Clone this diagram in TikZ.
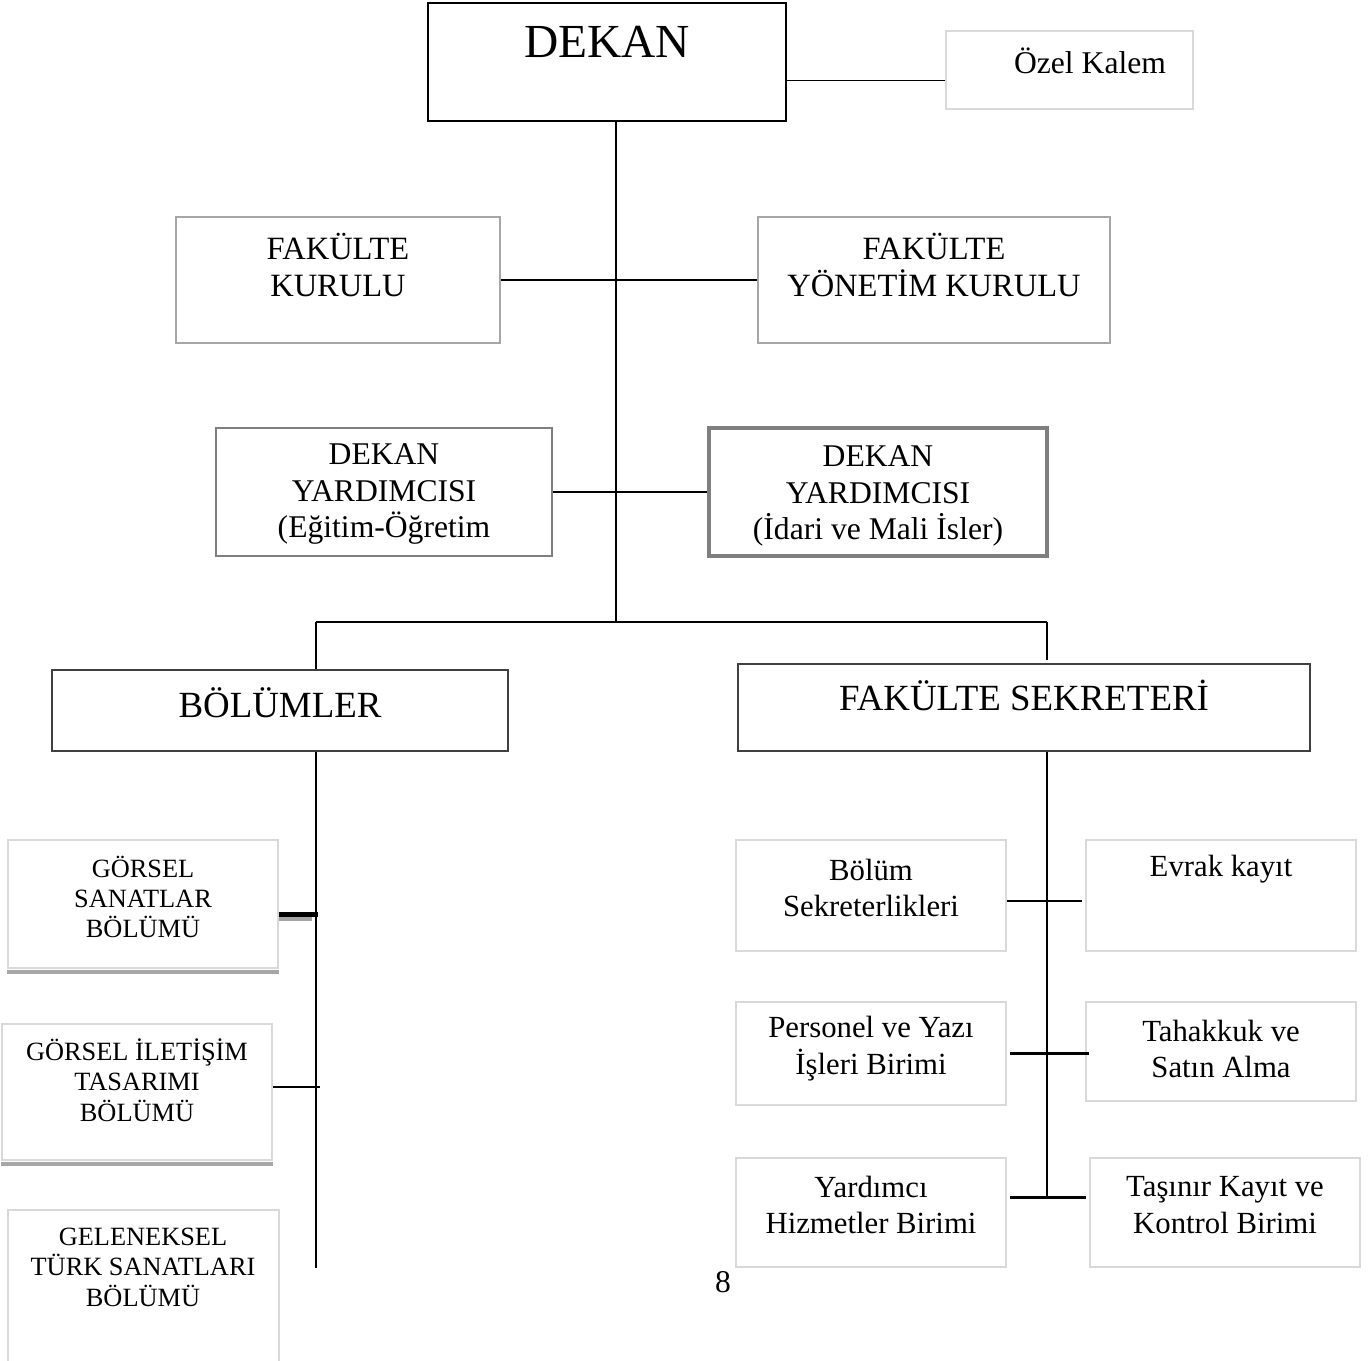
\documentclass[tikz,border=0pt]{standalone}
\usepackage{fontspec}
\setmainfont{Liberation Serif}
\usetikzlibrary{fit}
\definecolor{boxlight}{HTML}{D9D9D9}
\definecolor{boxmid}{HTML}{A6A6A6}
\definecolor{boxgrey}{HTML}{7F7F7F}
\definecolor{boxdark}{HTML}{404040}
% #1 name, #2 box style, #3 corners, #4 text position, #5 font, #6 text
\newcommand{\orgbox}[6]{
  \node(#1)[#2,fit={#3}]{};
  \node(#1-t)[boxtext,font=#5] at (#4){#6};
}

\begin{document}
\begin{tikzpicture}[
  x=0.02cm,y=-0.02cm,
  boxtext/.style={align=center,inner sep=0pt},
  unit/.style={draw,inner sep=0pt,line width=1.1pt},
  headbox/.style={unit,draw=black,line width=1.5pt},
  lightbox/.style={unit,draw=boxlight},
  midbox/.style={unit,draw=boxmid},
  greybox/.style={unit,draw=boxgrey},
  thickbox/.style={unit,draw=boxgrey,line width=2.2pt},
  darkbox/.style={unit,draw=boxdark},
  link/.style={draw,line width=1.4pt},
  thinlink/.style={draw,line width=0.7pt},
  shadowline/.style={draw=gray!70,line width=2.2pt},
  ]
  \useasboundingbox (0,0) rectangle (1368,1361);
  % top level
  \orgbox{dekan}{headbox}{(428,3)(786,121)}{607,42}{\fontsize{27}{30}\selectfont}{DEKAN}
  \orgbox{ozel}{lightbox}{(946,31)(1193,109)}{1090,61}{\fontsize{18}{21}\selectfont}{Özel Kalem}
  \orgbox{fk}{midbox}{(176,217)(500,343)}{338,265}{\fontsize{18.5}{21}\selectfont}{FAKÜLTE\\KURULU}
  \orgbox{fyk}{midbox}{(758,217)(1110,343)}{934,265}{\fontsize{18.5}{21}\selectfont}{FAKÜLTE\\YÖNETİM KURULU}
  \orgbox{dy-eo}{greybox}{(216,428)(552,556)}{384,494}{\fontsize{18}{20.7}\selectfont}{DEKAN\\YARDIMCISI\\(Eğitim-Öğretim}
  \orgbox{dy-im}{thickbox}{(709,428)(1047,556)}{878,496}{\fontsize{18}{20.7}\selectfont}{DEKAN\\YARDIMCISI\\(İdari ve Mali İsler)}
  \orgbox{bolum}{darkbox}{(52,670)(508,751)}{280,703}{\fontsize{21}{24}\selectfont}{BÖLÜMLER}
  \orgbox{sekr}{darkbox}{(738,664)(1310,751)}{1024,695}{\fontsize{21}{24}\selectfont}{FAKÜLTE SEKRETERİ}
  % departments
  \orgbox{gsb}{lightbox}{(8,840)(278,968)}{143,897}{\fontsize{15}{17.3}\selectfont}{GÖRSEL\\SANATLAR\\BÖLÜMÜ}
  \orgbox{gitb}{lightbox}{(2,1024)(272,1160)}{137,1080}{\fontsize{15}{17.3}\selectfont}{GÖRSEL İLETİŞİM\\TASARIMI\\BÖLÜMÜ}
  \orgbox{gtsb}{lightbox}{(8,1210)(279,1372)}{143,1267}{\fontsize{15}{17.3}\selectfont}{GELENEKSEL\\TÜRK SANATLARI\\BÖLÜMÜ}
  % secretary units
  \orgbox{bsek}{lightbox}{(736,840)(1006,951)}{871,888}{\fontsize{17.5}{21}\selectfont}{Bölüm\\Sekreterlikleri}
  \orgbox{evrak}{lightbox}{(1086,840)(1356,951)}{1221,869}{\fontsize{17.5}{21}\selectfont}{Evrak kayıt}
  \orgbox{pers}{lightbox}{(736,1002)(1006,1105)}{871,1049}{\fontsize{17.5}{21}\selectfont}{Personel ve Yazı\\İşleri Birimi}
  \orgbox{tah}{lightbox}{(1086,1002)(1356,1101)}{1221,1049}{\fontsize{17.5}{21}\selectfont}{Tahakkuk ve\\Satın Alma}
  \orgbox{yard}{lightbox}{(736,1158)(1006,1267)}{871,1205}{\fontsize{17.5}{21}\selectfont}{Yardımcı\\Hizmetler Birimi}
  \orgbox{tas}{lightbox}{(1090,1158)(1360,1267)}{1225,1205}{\fontsize{17.5}{21}\selectfont}{Taşınır Kayıt ve\\Kontrol Birimi}
  \node(page)[font=\fontsize{18}{21}\selectfont,inner sep=0pt] at (723,1282){8};
  % shadows under the first two departments
  \draw[shadowline] ([yshift=-1.5pt]gsb.south west) -- ([yshift=-1.5pt]gsb.south east);
  \draw[shadowline] ([yshift=-1.5pt]gitb.south west) -- ([yshift=-1.5pt]gitb.south east);
  % connectors
  \coordinate(split) at (616,622);
  \coordinate(left-drop) at (316,622);
  \coordinate(right-drop) at (1047,622);
  \coordinate(left-end) at (316,1268);
  \coordinate(right-end) at (1047,1198);
  \draw[thinlink] ([yshift=-6pt]ozel.west) -- ([yshift=-6pt]ozel.west -| dekan.east);
  \draw[link] (split |- dekan.south) -- (split);
  \draw[link] (fk.east) -- (fyk.west);
  \draw[link] (dy-eo.east) -- (dy-im.west);
  \draw[link] (left-drop) -- (right-drop);
  \draw[link] (left-drop) -- (left-drop |- bolum.north);
  \draw[link] (right-drop) -- ([yshift=2pt]right-drop |- sekr.north);
  \draw[link] (left-drop |- bolum.south) -- (left-end);
  \draw[link] (right-drop |- sekr.south) -- (right-end);
  \draw[gray!70,line width=2.2pt] ([yshift=-8.5pt]gsb.east) -- ([xshift=-2pt,yshift=-8.5pt]gsb.east -| left-end);
  \draw[black,line width=2.8pt] ([yshift=-6pt]gsb.east) -- ([xshift=1pt,yshift=-6pt]gsb.east -| left-end);
  \draw[link] ([yshift=3pt]gitb.east) -- ([xshift=2pt,yshift=3pt]gitb.east -| left-end);
  \draw[link] ([yshift=-3pt]bsek.east) -- ([xshift=-2pt,yshift=-3pt]evrak.west);
  \draw[link] ([xshift=2pt]pers.east) -- ([xshift=2pt]pers.east -| tah.west);
  \draw[link] ([xshift=2pt,yshift=8.5pt]yard.east) -- ([xshift=-2pt,yshift=8.5pt]tas.west);
\end{tikzpicture}
\end{document}
